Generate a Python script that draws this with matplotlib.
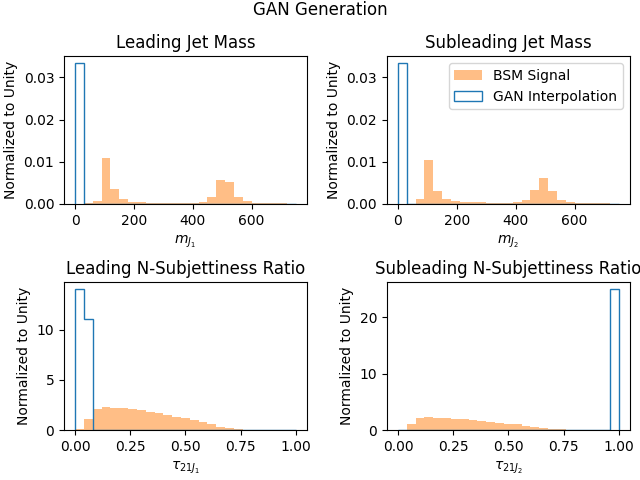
import numpy as np
import matplotlib
matplotlib.use('Agg')
import matplotlib.pyplot as plt

# bin edges
mass_edges = np.linspace(0, 750, 26)
tau_edges = np.linspace(0, 1, 26)

# BSM signal densities per bin
bsm_mj1 = [0.0, 0.0002, 0.00065, 0.0108, 0.00355, 0.00113, 0.0004, 0.0004,
           0.00015, 0.00015, 0.00015, 0.00015, 0.00015, 0.00015, 0.0004, 0.0016,
           0.0057, 0.0052, 0.0016, 0.00065, 0.00015, 0.00015, 0.00015, 0.00015, 0.00005]
bsm_mj2 = [0.0, 0.00005, 0.0011, 0.0103, 0.0030, 0.0011, 0.00064, 0.0004,
           0.0004, 0.0004, 0.00016, 0.00016, 0.00016, 0.0004, 0.00096, 0.0033,
           0.0062, 0.0030, 0.00096, 0.0004, 0.00016, 0.00016, 0.00016, 0.00016, 0.00005]
bsm_tau1 = [0.1, 1.1, 2.1, 2.3, 2.2, 2.2, 2.1, 2.0, 1.8, 1.7, 1.5, 1.3, 1.2,
            1.0, 0.8, 0.6, 0.3, 0.2, 0.1, 0.03, 0.02, 0.01, 0.01, 0.0, 0.0]
bsm_tau2 = [0.05, 1.07, 2.15, 2.33, 2.15, 2.15, 1.97, 1.97, 1.8, 1.6, 1.43, 1.25, 1.07,
            1.07, 0.72, 0.54, 0.36, 0.18, 0.18, 0.03, 0.02, 0.01, 0.0, 0.0, 0.0]

# GAN interpolation densities per bin
gan_mj1 = [1 / 30] + [0.0] * 24
gan_mj2 = [1 / 30] + [0.0] * 24
gan_tau1 = [14.0, 11.0] + [0.0] * 23
gan_tau2 = [0.0] * 24 + [25.0]

panels = [
    ('Leading Jet Mass', r'$m_{J_1}$', mass_edges, bsm_mj1, gan_mj1),
    ('Subleading Jet Mass', r'$m_{J_2}$', mass_edges, bsm_mj2, gan_mj2),
    ('Leading N-Subjettiness Ratio', r'$\tau_{21 J_1}$', tau_edges, bsm_tau1, gan_tau1),
    ('Subleading N-Subjettiness Ratio', r'$\tau_{21 J_2}$', tau_edges, bsm_tau2, gan_tau2),
]

fig, axes = plt.subplots(2, 2, figsize=(6.4, 4.8), dpi=100)
fig.suptitle('GAN Generation', y=0.997)

for ax, (title, xlabel, edges, bsm, gan) in zip(axes.flat, panels):
    centers = 0.5 * (edges[:-1] + edges[1:])
    ax.hist(centers, bins=edges, weights=bsm, color='C1', alpha=0.5, label='BSM Signal')
    ax.hist(centers, bins=edges, weights=gan, histtype='step', color='C0', label='GAN Interpolation')
    ax.set_title(title)
    ax.set_xlabel(xlabel)
    ax.set_ylabel('Normalized to Unity')

axes[0, 0].set_xticks([0, 200, 400, 600])
axes[0, 1].set_xticks([0, 200, 400, 600])
axes[0, 1].legend(loc='upper right')

plt.subplots_adjust(left=0.1, right=0.984, top=0.883, bottom=0.104, wspace=0.33, hspace=0.53)
plt.savefig('out.png', dpi=100)
